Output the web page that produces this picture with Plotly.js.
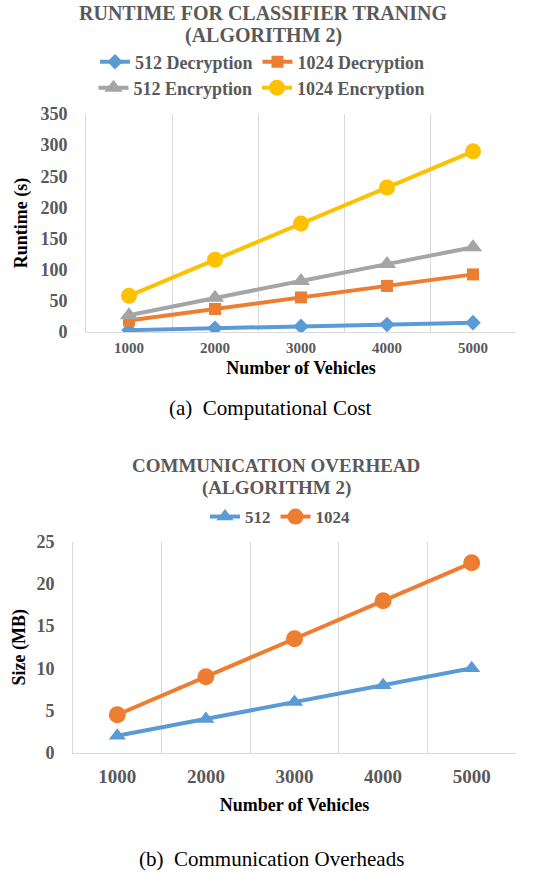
<!DOCTYPE html>
<html>
<head>
<meta charset="utf-8">
<script src="https://cdn.plot.ly/plotly-3.0.1.min.js"></script>
<style>html,body{margin:0;padding:0;background:#fff;}#chart{width:539px;height:873px;}</style>
</head>
<body>
<div id="chart"></div>
<script>
// ---- data ----
const vehicles = ['1000', '2000', '3000', '4000', '5000'];
const dec512 = [3, 6, 9, 12, 15];
const dec1024 = [18.5, 37, 55.5, 74, 92.5];
const enc512 = [27, 55, 82, 109, 136];
const enc1024 = [58, 116, 174, 232, 290];
const size512 = [2, 4, 6, 8, 10];
const size1024 = [4.5, 9, 13.5, 18, 22.5];

const W = 539, H = 873;
const px = v => v / W;
const py = v => 1 - v / H;
const serif = 'Liberation Serif';
const gray = '#595959';

function tr(x, y, name, color, symbol, msize, xa, ya, leg) {
  return {
    x: x, y: y, name: name, type: 'scatter', mode: 'lines+markers',
    xaxis: xa, yaxis: ya, legend: leg,
    line: {color: color, width: 4},
    marker: {color: color, symbol: symbol, size: msize}
  };
}

const data = [
  tr(vehicles, dec512, '512 Decryption', '#5B9BD5', 'diamond', 12, 'x', 'y', 'legend'),
  tr(vehicles, dec1024, '1024 Decryption', '#ED7D31', 'square', 12, 'x', 'y', 'legend'),
  tr(vehicles, enc512, '512 Encryption', '#A5A5A5', 'triangle-up', 16, 'x', 'y', 'legend2'),
  tr(vehicles, enc1024, '1024 Encryption', '#FFC000', 'circle', 16, 'x', 'y', 'legend2'),
  tr(vehicles, size512, '512', '#5B9BD5', 'triangle-up', 15, 'x2', 'y2', 'legend3'),
  tr(vehicles, size1024, '1024', '#ED7D31', 'circle', 17, 'x2', 'y2', 'legend3')
];

function xaxis(domain, tsize, standoff) {
  return {
    domain: domain, type: 'category', range: [-0.5, 4.5],
    tickson: 'boundaries', ticks: '', showgrid: true, gridcolor: '#d9d9d9', gridwidth: 1,
    showline: true, linecolor: '#d9d9d9', linewidth: 1, mirror: false,
    ticklabelstandoff: standoff,
    tickfont: {family: serif, size: tsize, color: gray, weight: 'bold'},
    fixedrange: true
  };
}
function yaxis(domain, range, dtick, standoff) {
  return {
    domain: domain, range: range, dtick: dtick, showgrid: false, zeroline: false,
    showline: true, linecolor: '#d9d9d9', linewidth: 1, ticks: '', ticklabelstandoff: standoff,
    tickfont: {family: serif, size: 18, color: gray, weight: 'bold'},
    fixedrange: true
  };
}

const xa1 = xaxis([px(86), px(516)], 15, 2);
xa1.title = {text: 'Number of Vehicles', font: {family: serif, size: 18, color: '#000', weight: 'bold'}, standoff: 6};
const ya1 = yaxis([py(332), py(114)], [0, 350], 50, 14);
ya1.title = {text: 'Runtime (s)', font: {family: serif, size: 18, color: '#000', weight: 'bold'}, standoff: 8};

const xa2 = xaxis([px(73), px(516)], 19, 6);
xa2.anchor = 'y2';
xa2.title = {text: 'Number of Vehicles', font: {family: serif, size: 18, color: '#000', weight: 'bold'}, standoff: 12};
const ya2 = yaxis([py(752.7), py(541.7)], [0, 25], 5, 14);
ya2.anchor = 'x2';
ya2.title = {text: 'Size (MB)', font: {family: serif, size: 18, color: '#000', weight: 'bold'}, standoff: 6};

function legend(xc, yc, size) {
  return {
    orientation: 'h', x: px(xc), y: py(yc), xanchor: 'center', yanchor: 'middle',
    font: {family: serif, size: size, color: gray, weight: 'bold'},
    bgcolor: 'rgba(0,0,0,0)', itemwidth: 30, tracegroupgap: 0
  };
}

function ann(text, xc, yc, size, bold, color) {
  return {
    text: text, xref: 'paper', yref: 'paper', x: px(xc), y: py(yc),
    xanchor: 'center', yanchor: 'middle', showarrow: false,
    font: {family: serif, size: size, color: color, weight: bold ? 'bold' : 'normal'}
  };
}

const layout = {
  width: W, height: H,
  margin: {l: 0, r: 0, t: 0, b: 0},
  paper_bgcolor: '#fff', plot_bgcolor: '#fff',
  font: {family: serif},
  showlegend: true,
  xaxis: xa1, yaxis: ya1, xaxis2: xa2, yaxis2: ya2,
  legend: legend(262, 62, 18),
  legend2: legend(262, 88, 18),
  legend3: legend(280, 517, 17),
  annotations: [
    ann('RUNTIME FOR CLASSIFIER TRANING', 263, 13, 20, true, gray),
    ann('(ALGORITHM 2)', 263, 36, 20, true, gray),
    ann('(a)\u00a0 Computational Cost', 270, 408, 21, false, '#000'),
    ann('COMMUNICATION OVERHEAD', 276, 465, 19, true, gray),
    ann('(ALGORITHM 2)', 276, 488, 19, true, gray),
    ann('(b)\u00a0 Communication Overheads', 271, 859, 21, false, '#000')
  ]
};

Plotly.newPlot('chart', data, layout, {displayModeBar: false, staticPlot: true});
</script>
</body>
</html>
